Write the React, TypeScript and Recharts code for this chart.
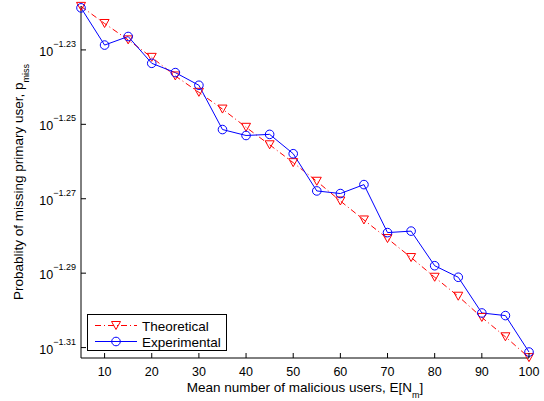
import React from 'react';
import { LineChart, Line, XAxis, YAxis } from 'recharts';

// x = mean number of malicious users, values are log10(p_miss)
const X_VALUES = [5, 10, 15, 20, 25, 30, 35, 40, 45, 50, 55, 60, 65, 70, 75, 80, 85, 90, 95, 100];
const THEORETICAL = [
  -1.2183, -1.2229, -1.2273, -1.232, -1.237, -1.2414, -1.2459, -1.2508, -1.2555, -1.2603,
  -1.2653, -1.2706, -1.2757, -1.2807, -1.2858, -1.2911, -1.2962, -1.3019, -1.3071, -1.3127,
];
const EXPERIMENTAL = [
  -1.2187, -1.2287, -1.2264, -1.2336, -1.2361, -1.2395, -1.2514, -1.253, -1.2527, -1.2579,
  -1.2679, -1.2686, -1.2662, -1.2791, -1.2787, -1.288, -1.2911, -1.3007, -1.3014, -1.3112,
];
const X_TICKS = [10, 20, 30, 40, 50, 60, 70, 80, 90, 100];
const Y_TICKS = [-1.31, -1.29, -1.27, -1.25, -1.23];
const X_DOMAIN = [5, 100];
const Y_DOMAIN = [-1.3128, -1.2182];

const FONT = '"Liberation Sans", Arial, Helvetica, sans-serif';
const TICK_LEN = 5;
const RED = '#ff0000';
const BLUE = '#0000ff';

const rows = X_VALUES.map((x, i) => ({
  x,
  theoretical: THEORETICAL[i],
  experimental: EXPERIMENTAL[i],
}));

function TriangleDot(props: any) {
  const { cx, cy } = props;
  if (cx == null || cy == null) return null;
  return (
    <polygon
      points={`${cx - 4.5},${cy - 4} ${cx + 4.5},${cy - 4} ${cx},${cy + 4}`}
      fill="none"
      stroke={RED}
      strokeWidth={1}
    />
  );
}

function CircleDot(props: any) {
  const { cx, cy } = props;
  if (cx == null || cy == null) return null;
  return <circle cx={cx} cy={cy} r={4.3} fill="none" stroke={BLUE} strokeWidth={1} />;
}

function BottomTick({ x, y, payload }: any) {
  return (
    <g>
      <line x1={x} y1={y} x2={x} y2={y - TICK_LEN} stroke="#000" />
      <text x={x} y={y + 18} textAnchor="middle" fontSize={12.5} fontFamily={FONT} fill="#000">
        {payload.value}
      </text>
    </g>
  );
}

function TopTick({ x, y }: any) {
  return <line x1={x} y1={y} x2={x} y2={y + TICK_LEN} stroke="#000" />;
}

function LeftTick({ x, y, payload }: any) {
  const exp = payload.value.toFixed(2).replace('-', '\u2212');
  return (
    <g>
      <line x1={x} y1={y} x2={x + TICK_LEN} y2={y} stroke="#000" />
      <text x={x - 5} y={y + 6} textAnchor="end" fontSize={12.5} fontFamily={FONT} fill="#000">
        10
        <tspan dy={-9} fontSize={9}>
          {exp}
        </tspan>
      </text>
    </g>
  );
}

function RightTick({ x, y }: any) {
  return <line x1={x} y1={y} x2={x - TICK_LEN} y2={y} stroke="#000" />;
}

function XTitle({ viewBox }: any) {
  const { x, y, width } = viewBox;
  return (
    <text x={x + width / 2} y={y + 33.5} textAnchor="middle" fontSize={13.5} fontFamily={FONT} fill="#000">
      Mean number of malicious users, E[N
      <tspan dy={6} fontSize={9}>m</tspan>
      <tspan dy={-6}>]</tspan>
    </text>
  );
}

function YTitle({ viewBox }: any) {
  const { y, height } = viewBox;
  const cx = 23;
  const cy = y + height / 2;
  return (
    <text
      x={cx}
      y={cy}
      transform={`rotate(-90, ${cx}, ${cy})`}
      textAnchor="middle"
      fontSize={13.5}
      fontFamily={FONT}
      fill="#000"
    >
      Probablity of missing primary user, p
      <tspan dy={6} fontSize={9}>miss</tspan>
    </text>
  );
}

const LEGEND_ITEMS = [
  { name: 'Theoretical', color: RED, dash: '6 3 1 3', Marker: TriangleDot },
  { name: 'Experimental', color: BLUE, dash: undefined, Marker: CircleDot },
];

function LegendBox() {
  // legend sits in the lower-left corner of the axes, like matlab's 'SouthWest'
  return (
    <g>
      <rect x={87.5} y={314.5} width={139} height={36} fill="#fff" stroke="#000" strokeWidth={1} />
      {LEGEND_ITEMS.map((item, i) => {
        const ly = 325.5 + i * 16;
        return (
          <g key={item.name}>
            <line x1={95} y1={ly} x2={137} y2={ly} stroke={item.color} strokeDasharray={item.dash} />
            <item.Marker cx={116} cy={ly} />
            <text x={142} y={ly + 5} fontSize={13.5} fontFamily={FONT} fill="#000">
              {item.name}
            </text>
          </g>
        );
      })}
    </g>
  );
}

export default function App() {
  return (
    <div style={{ position: 'absolute', left: 0, top: 0, width: 544, height: 401, background: '#fff' }}>
      <LineChart width={544} height={401} data={rows} margin={{ top: 6, right: 15, bottom: 0, left: 0 }}>
        <XAxis
          dataKey="x"
          type="number"
          domain={X_DOMAIN}
          ticks={X_TICKS}
          interval={0}
          height={43}
          tickSize={0}
          tickMargin={0}
          tick={<BottomTick />}
          axisLine={{ stroke: '#000' }}
          label={<XTitle />}
        />
        <XAxis
          xAxisId="top"
          orientation="top"
          type="number"
          domain={X_DOMAIN}
          ticks={X_TICKS}
          interval={0}
          height={0}
          tickSize={0}
          tickMargin={0}
          tick={<TopTick />}
          axisLine={{ stroke: '#000' }}
        />
        <YAxis
          type="number"
          domain={Y_DOMAIN}
          ticks={Y_TICKS}
          interval={0}
          width={81}
          tickSize={0}
          tickMargin={0}
          tick={<LeftTick />}
          axisLine={{ stroke: '#000' }}
          label={<YTitle />}
        />
        <YAxis
          yAxisId="right"
          orientation="right"
          type="number"
          domain={Y_DOMAIN}
          ticks={Y_TICKS}
          interval={0}
          width={0}
          tickSize={0}
          tickMargin={0}
          tick={<RightTick />}
          axisLine={{ stroke: '#000' }}
        />
        <Line
          dataKey="theoretical"
          name="Theoretical"
          stroke={RED}
          strokeWidth={1}
          strokeDasharray="6 3 1 3"
          dot={<TriangleDot />}
          activeDot={false}
          isAnimationActive={false}
        />
        <Line
          dataKey="experimental"
          name="Experimental"
          stroke={BLUE}
          strokeWidth={1}
          dot={<CircleDot />}
          activeDot={false}
          isAnimationActive={false}
        />
        <LegendBox />
      </LineChart>
    </div>
  );
}
